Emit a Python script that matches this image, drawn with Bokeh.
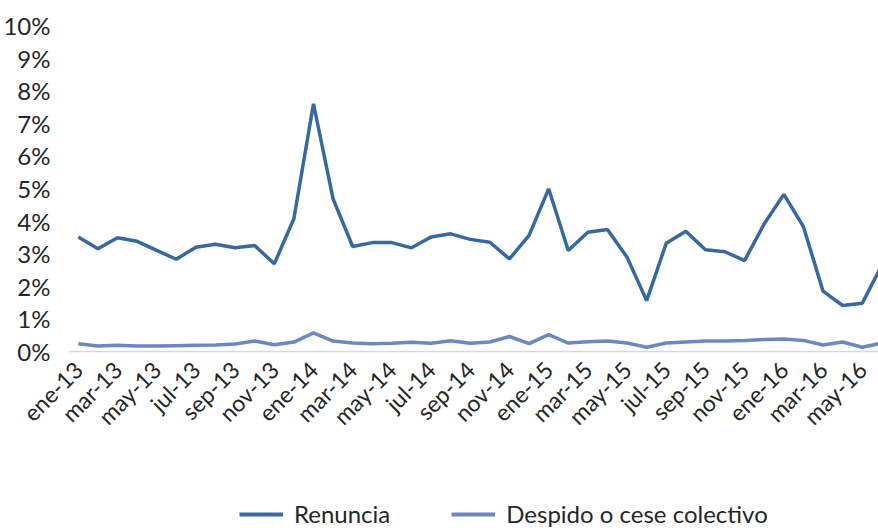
from bokeh.plotting import figure
from bokeh.layouts import column
from bokeh.models import FixedTicker, Range1d, Legend, LegendItem, ColumnDataSource
from bokeh.embed import file_html
from bokeh.resources import INLINE
import math

months = ["ene", "feb", "mar", "abr", "may", "jun", "jul", "ago", "sep", "oct", "nov", "dic"]
categories = [f"{m}-{y}" for y in ["13", "14", "15", "16"] for m in months][:42]

renuncia = [3.51, 3.15, 3.49, 3.38, 3.10, 2.83, 3.20, 3.29, 3.18, 3.25, 2.69, 4.07,
            7.60, 4.68, 3.22, 3.34, 3.34, 3.18, 3.51, 3.61, 3.44, 3.35, 2.84, 3.56,
            4.99, 3.10, 3.66, 3.74, 2.89, 1.56, 3.32, 3.69, 3.12, 3.06, 2.79, 3.92,
            4.82, 3.83, 1.85, 1.41, 1.48, 2.65]
despido = [0.24, 0.17, 0.19, 0.17, 0.17, 0.18, 0.19, 0.20, 0.23, 0.32, 0.21, 0.29,
           0.57, 0.32, 0.26, 0.24, 0.25, 0.28, 0.25, 0.33, 0.25, 0.29, 0.46, 0.24,
           0.52, 0.26, 0.30, 0.32, 0.26, 0.13, 0.26, 0.29, 0.32, 0.32, 0.34, 0.37,
           0.38, 0.34, 0.20, 0.29, 0.13, 0.26]
series_names = ["Renuncia", "Despido o cese colectivo"]
y_ticks = list(range(0, 11))

FONT = "Lato"
TXT = "#262626"
C1 = "#3469a6"
C2 = "#6b88c6"

x = list(range(len(categories)))
src = ColumnDataSource(dict(x=x, r=renuncia, d=despido))

p = figure(width=878, height=442, output_backend="svg", toolbar_location=None,
           x_range=Range1d(-0.5, 40.83), y_range=Range1d(0, 10),
           min_border_left=68, min_border_right=0, min_border_top=25,
           min_border_bottom=0)
p.outline_line_color = None
p.background_fill_color = "white"
p.border_fill_color = "white"
p.xgrid.visible = False
p.ygrid.visible = False

p.line("x", "r", source=src, line_color=C1, line_width=3.5)
p.line("x", "d", source=src, line_color=C2, line_width=3.5)

p.yaxis.ticker = FixedTicker(ticks=y_ticks)
p.yaxis.major_label_overrides = {t: f"{t}%" for t in y_ticks}
p.yaxis.axis_line_color = None
p.yaxis.major_tick_line_color = None
p.yaxis.minor_tick_line_color = None
p.yaxis.major_label_text_font = FONT
p.yaxis.major_label_text_font_size = "24px"
p.yaxis.major_label_text_color = TXT
p.yaxis.major_label_standoff = 12

p.xaxis.ticker = FixedTicker(ticks=x[::2])
p.xaxis.major_label_overrides = {i: categories[i] for i in x[::2]}
p.xaxis.axis_line_color = "#d9d9d9"
p.xaxis.axis_line_width = 1.5
p.xaxis.major_tick_line_color = None
p.xaxis.minor_tick_line_color = None
p.xaxis.major_label_orientation = math.pi / 4
p.xaxis.major_label_text_font = FONT
p.xaxis.major_label_text_font_size = "23px"
p.xaxis.major_label_text_color = TXT
p.xaxis.major_label_standoff = 8
p.frame_height = 326

# legend strip: the series are drawn outside its visible range, only the legend shows
lg = figure(width=878, height=86, output_backend="svg", toolbar_location=None,
            x_axis_location=None, y_axis_location=None, min_border=0,
            x_range=Range1d(1000, 1001), y_range=Range1d(0, 1))
lg.outline_line_color = None
lg.xgrid.visible = False
lg.ygrid.visible = False
l1 = lg.line(x, renuncia, line_color=C1, line_width=4)
l2 = lg.line(x, despido, line_color=C2, line_width=4)
legend = Legend(items=[LegendItem(label=series_names[0], renderers=[l1]),
                       LegendItem(label=series_names[1], renderers=[l2])],
                orientation="horizontal", location=(171, 0),
                label_text_font=FONT, label_text_font_size="24px", label_text_color=TXT,
                glyph_width=44, label_standoff=11, spacing=61, border_line_color=None,
                background_fill_alpha=0, margin=0, padding=0)
lg.add_layout(legend, "center")

layout = column(p, lg, spacing=0)
open("out.html", "w").write(file_html(layout, INLINE))
